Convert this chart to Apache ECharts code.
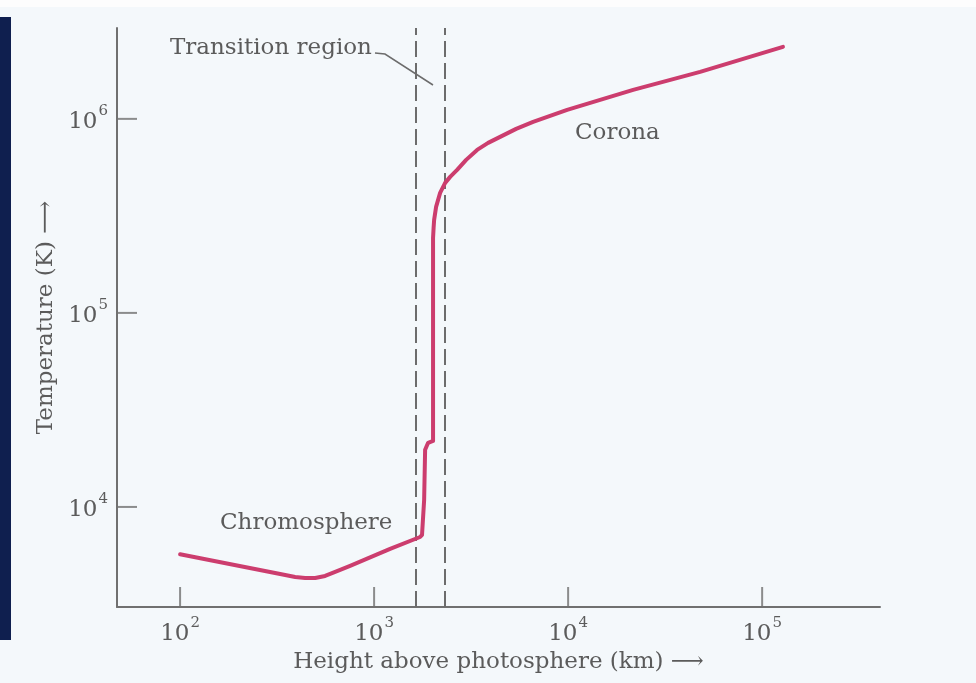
<!DOCTYPE html>
<html>
<head>
<meta charset="utf-8">
<script src="https://cdn.jsdelivr.net/npm/echarts@6/dist/echarts.min.js"></script>
<style>
html,body{margin:0;padding:0;background:#f4f8fb;}
#chart{width:976px;height:683px;}
</style>
</head>
<body>
<div id="chart"></div>
<script>
// Height above photosphere (km)
const heights = [100, 328, 392, 441, 497, 559, 630, 752, 1209, 1726, 1766, 1811, 1832, 1898, 2013, 2013, 2013, 2013, 2026, 2039, 2087, 2189, 2324, 2465, 2678, 2981, 3396, 3869, 4461, 5395, 6599, 8075, 9883, 14620, 21630, 47900, 128000];
// Temperature (K)
const temps = [5700, 4513, 4357, 4306, 4306, 4409, 4623, 4964, 6080, 7000, 7180, 10860, 19700, 21400, 21900, 35600, 116800, 243600, 274300, 301500, 351900, 415600, 467900, 502400, 545900, 614800, 692000, 752000, 807500, 888000, 965000, 1036000, 1113000, 1253000, 1411000, 1746000, 2350000];
// Transition region boundaries (km)
const transitionBounds = [1645, 2325];
// Tick values
const xTickValues = [100, 1000, 10000, 100000];
const yTickValues = [10000, 100000, 1000000];
// Axis ranges
const X_MIN = 47.3, X_MAX = 405000;
const Y_MIN = 3050, Y_MAX = 2940000;

const FONT = "'DejaVu Serif', 'Liberation Serif', serif";
const TXT = '#5b5b5b';
const AX = '#707070';

const lineData = heights.map((h, i) => [h, temps[i]]);

function powLabel(v) {
  const e = Math.round(Math.log10(v));
  return '{b|10}{s|' + e + '}';
}
const rich = {
  b: { fontSize: 23, fontFamily: FONT, color: TXT, lineHeight: 30, verticalAlign: 'bottom' },
  s: { fontSize: 15, fontFamily: FONT, color: TXT, lineHeight: 15, verticalAlign: 'top', padding: [0, 0, 0, 1] }
};

const chart = echarts.init(document.getElementById('chart'), null, { renderer: 'canvas' });
chart.setOption({
  backgroundColor: '#f4f8fb',
  animation: false,
  grid: { left: 117, right: 96, top: 28, bottom: 76, containLabel: false },
  xAxis: {
    type: 'log', logBase: 10, min: X_MIN, max: X_MAX,
    axisLine: { show: true, lineStyle: { color: AX, width: 2 } },
    axisTick: { show: false },
    splitLine: { show: false },
    axisLabel: { showMinLabel: false, showMaxLabel: false, margin: 9, formatter: powLabel, rich: rich },
    name: 'Height above photosphere (km) \u27F6',
    nameLocation: 'middle', nameGap: 43,
    nameTextStyle: { fontFamily: FONT, fontSize: 23, color: TXT }
  },
  yAxis: {
    type: 'log', logBase: 10, min: Y_MIN, max: Y_MAX,
    axisLine: { show: true, lineStyle: { color: AX, width: 2 } },
    axisTick: { show: false },
    splitLine: { show: false },
    axisLabel: { showMinLabel: false, showMaxLabel: false, margin: 9, formatter: powLabel, rich: rich },
    name: 'Temperature (K) \u27F6',
    nameLocation: 'middle', nameGap: 58, nameRotate: 90,
    nameTextStyle: { fontFamily: FONT, fontSize: 23, color: TXT }
  },
  series: [
    {
      type: 'line', data: lineData, showSymbol: false, smooth: false,
      lineStyle: { color: '#cc3d6e', width: 4, join: 'round', cap: 'round' },
      z: 5,
      markLine: {
        silent: true, symbol: ['none', 'none'], label: { show: false },
        lineStyle: { color: '#6c6c6c', width: 2, type: [16, 6] },
        data: transitionBounds.map(v => ({ xAxis: v }))
      }
    },
    {
      type: 'scatter', silent: true, clip: false,
      data: xTickValues.map(v => [v, Y_MIN]),
      symbol: 'rect', symbolSize: [2, 20], symbolOffset: [0, '-50%'],
      itemStyle: { color: AX }
    },
    {
      type: 'scatter', silent: true, clip: false,
      data: yTickValues.map(v => [X_MIN, v]),
      symbol: 'rect', symbolSize: [20, 2], symbolOffset: ['50%', 0],
      itemStyle: { color: AX }
    }
  ],
  graphic: [
    { type: 'rect', z: -10, shape: { x: 0, y: 0, width: 976, height: 7 }, style: { fill: '#fdfdfd' } },
    { type: 'rect', z: -10, shape: { x: 0, y: 17, width: 11, height: 623 }, style: { fill: '#0f1f4f' } },
    { type: 'text', x: 170, y: 48, z: 10, style: { text: 'Transition region', font: '23px ' + FONT, fill: TXT, align: 'left', verticalAlign: 'middle' } },
    { type: 'polyline', z: 10, shape: { points: [[375, 53], [385, 54], [433, 85]] }, style: { stroke: '#6c6c6c', lineWidth: 1.5, fill: null } },
    { type: 'text', x: 575, y: 133, z: 10, style: { text: 'Corona', font: '23px ' + FONT, fill: TXT, align: 'left', verticalAlign: 'middle' } },
    { type: 'text', x: 220, y: 523, z: 10, style: { text: 'Chromosphere', font: '23px ' + FONT, fill: TXT, align: 'left', verticalAlign: 'middle' } }
  ]
});
</script>
</body>
</html>
